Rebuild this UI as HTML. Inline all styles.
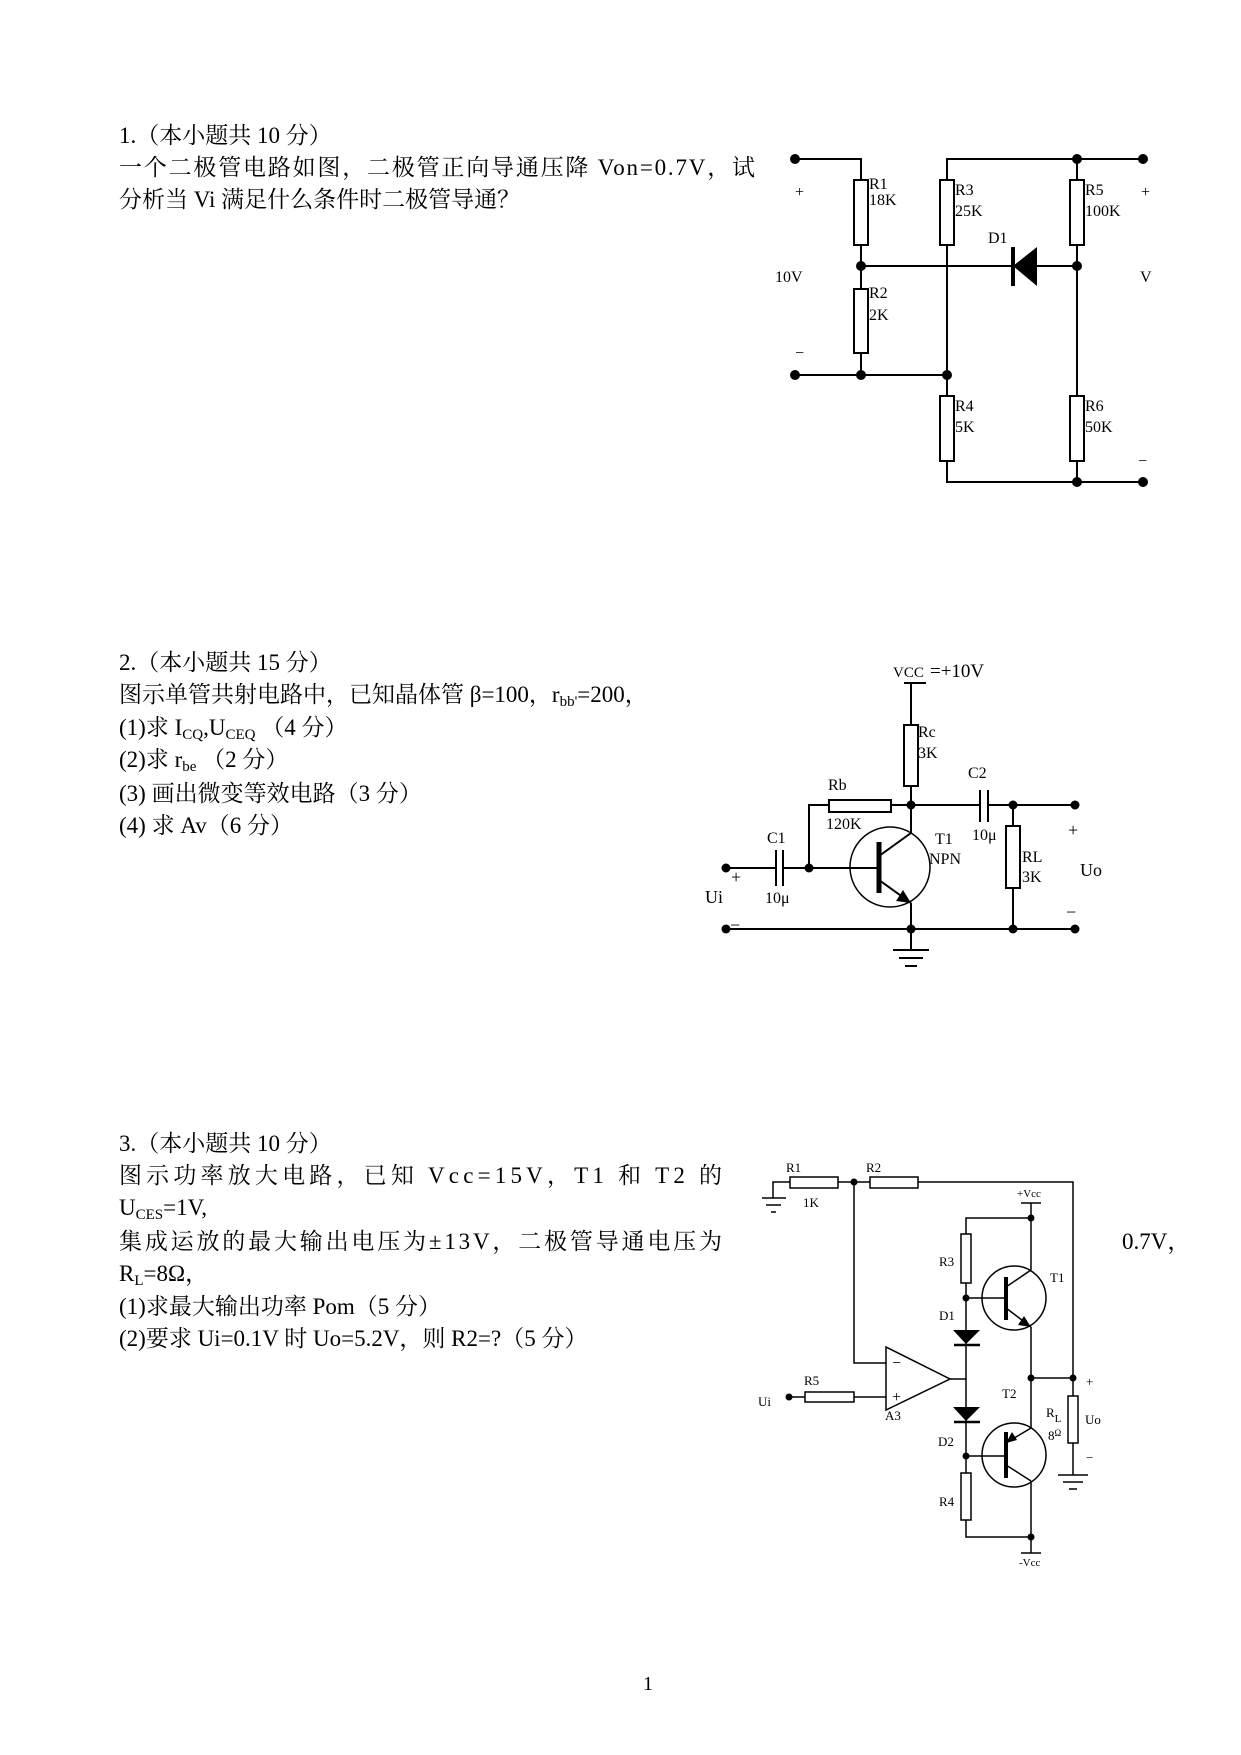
<!DOCTYPE html>
<html><head><meta charset="utf-8"><style>
html,body{margin:0;padding:0;background:#fff}
svg{display:block}
text{font-family:"Liberation Serif","Noto Serif CJK SC","Noto Sans CJK SC",serif;fill:#000}
.t{font-size:23px}
.s{font-size:16px}
.x{font-size:13px}
</style></head><body>
<svg width="1241" height="1755" viewBox="0 0 1241 1755" xmlns="http://www.w3.org/2000/svg">
<g class="t">
<text x="119" y="143">1.（本小题共 10  分）</text>
<text x="119" y="175" textLength="636" lengthAdjust="spacing">一个二极管电路如图，二极管正向导通压降 Von=0.7V，试</text>
<text x="119" y="207">分析当 Vi 满足什么条件时二极管导通？</text>

<text x="119" y="670">2.（本小题共 15 分）</text>
<text x="119" y="702">图示单管共射电路中，已知晶体管 β=100，r<tspan font-size="15" dy="4">bb'</tspan><tspan dy="-4">=200，</tspan></text>
<text x="119" y="735">(1)求 I<tspan font-size="15" dy="4">CQ</tspan><tspan dy="-4">,U</tspan><tspan font-size="15" dy="4">CEQ</tspan><tspan dy="-4">  （4 分）</tspan></text>
<text x="119" y="767">(2)求 r<tspan font-size="15" dy="4">be</tspan><tspan dy="-4"> （2 分）</tspan></text>
<text x="119" y="801">(3)  画出微变等效电路（3 分）</text>
<text x="119" y="833">(4)  求 Av（6 分）</text>

<text x="119" y="1151">3.（本小题共 10 分）</text>
<text x="119" y="1183" textLength="603" lengthAdjust="spacing">图示功率放大电路，已知 Vcc=15V，T1 和 T2 的</text>
<text x="119" y="1215">U<tspan font-size="15" dy="4">CES</tspan><tspan dy="-4">=1V,</tspan></text>
<text x="119" y="1249" textLength="603" lengthAdjust="spacing">集成运放的最大输出电压为±13V，二极管导通电压为</text>
<text x="1122" y="1249">0.7V，</text>
<text x="119" y="1281">R<tspan font-size="15" dy="4">L</tspan><tspan dy="-4">=8Ω，</tspan></text>
<text x="119" y="1314">(1)求最大输出功率 Pom（5 分）</text>
<text x="119" y="1346">(2)要求 Ui=0.1V 时 Uo=5.2V，则 R2=?（5 分）</text>
<text x="643" y="1690" font-size="20">1</text>
</g>

<!-- Circuit 1 -->
<g stroke="#000" stroke-width="2" fill="none">
<polyline points="795,159 861,159 861,180"/>
<line x1="861" y1="245" x2="861" y2="289"/>
<line x1="861" y1="353" x2="861" y2="375"/>
<line x1="795" y1="375" x2="947" y2="375"/>
<polyline points="947,180 947,159 1143,159"/>
<line x1="947" y1="245" x2="947" y2="396"/>
<polyline points="947,461 947,482 1143,482"/>
<line x1="1077" y1="159" x2="1077" y2="180"/>
<line x1="1077" y1="245" x2="1077" y2="396"/>
<line x1="1077" y1="461" x2="1077" y2="482"/>
<line x1="861" y1="266" x2="1077" y2="266"/>
<rect x="854" y="180" width="14" height="65"/>
<rect x="854" y="289" width="14" height="64"/>
<rect x="940" y="180" width="14" height="65"/>
<rect x="940" y="396" width="14" height="65"/>
<rect x="1070" y="180" width="14" height="65"/>
<rect x="1070" y="396" width="14" height="65"/>
<line x1="1013" y1="247" x2="1013" y2="286" stroke-width="4"/>
</g>
<polygon points="1013,266 1037,247 1037,286" fill="#000"/>
<g fill="#000">
<circle cx="795" cy="159" r="5"/><circle cx="795" cy="375" r="5"/>
<circle cx="861" cy="266" r="5"/><circle cx="861" cy="375" r="5"/>
<circle cx="947" cy="375" r="5"/><circle cx="1077" cy="159" r="5"/>
<circle cx="1143" cy="159" r="5"/><circle cx="1077" cy="266" r="5"/>
<circle cx="1077" cy="482" r="5"/><circle cx="1143" cy="482" r="5"/>
</g>
<g class="s">
<text x="869" y="189">R1</text><text x="869" y="205">18K</text>
<text x="869" y="298">R2</text><text x="869" y="320">2K</text>
<text x="955" y="195">R3</text><text x="955" y="216">25K</text>
<text x="955" y="411">R4</text><text x="955" y="432">5K</text>
<text x="1085" y="195">R5</text><text x="1085" y="216">100K</text>
<text x="1085" y="411">R6</text><text x="1085" y="432">50K</text>
<text x="988" y="243">D1</text>
<text x="775" y="282">10V</text>
<text x="1140" y="282">V</text>
</g>
<g fill="#999" font-size="16"><text x="795" y="197">+</text><text x="1141" y="197">+</text><text x="795" y="358">−</text><text x="1138" y="466">−</text></g>

<!-- Circuit 2 -->
<g stroke="#000" stroke-width="2" fill="none">
<line x1="904" y1="683" x2="926" y2="683"/>
<line x1="911" y1="683" x2="911" y2="725"/>
<rect x="904" y="725" width="14" height="61"/>
<line x1="911" y1="786" x2="911" y2="833"/>
<polyline points="809,868 809,805 829,805"/>
<rect x="829" y="800" width="62" height="12"/>
<line x1="891" y1="805" x2="980" y2="805"/>
<line x1="988" y1="805" x2="1075" y2="805"/>
<line x1="980" y1="790" x2="980" y2="822"/><line x1="988" y1="790" x2="988" y2="822"/>
<line x1="1013" y1="805" x2="1013" y2="826"/>
<rect x="1006" y="826" width="14" height="62"/>
<line x1="1013" y1="888" x2="1013" y2="929"/>
<line x1="726" y1="868" x2="776" y2="868"/>
<line x1="776" y1="850" x2="776" y2="886"/><line x1="783" y1="850" x2="783" y2="886"/>
<line x1="783" y1="868" x2="879" y2="868"/>
<circle cx="890" cy="867" r="40" stroke-width="1.5"/>
<line x1="879" y1="842" x2="879" y2="893" stroke-width="5"/>
<line x1="879" y1="856" x2="911" y2="833"/>
<line x1="879" y1="880" x2="911" y2="903"/>
<line x1="911" y1="903" x2="911" y2="950"/>
<line x1="726" y1="929" x2="1075" y2="929"/>
<line x1="893" y1="950" x2="929" y2="950"/>
<line x1="899" y1="958" x2="923" y2="958"/>
<line x1="905" y1="966" x2="917" y2="966"/>
</g>
<polygon points="911,903 896,901 903,890" fill="#000"/>
<g fill="#000">
<circle cx="911" cy="805" r="4.5"/><circle cx="1013" cy="805" r="4.5"/><circle cx="1075" cy="805" r="4.5"/>
<circle cx="726" cy="868" r="4.5"/><circle cx="809" cy="868" r="4.5"/>
<circle cx="726" cy="929" r="4.5"/><circle cx="911" cy="929" r="4.5"/>
<circle cx="1013" cy="929" r="4.5"/><circle cx="1075" cy="929" r="4.5"/>
</g>
<g font-size="16">
<text x="893" y="677" font-size="15">VCC</text><text x="930" y="677" font-size="19">=+10V</text>
<text x="918" y="737">Rc</text><text x="918" y="758">3K</text>
<text x="828" y="790">Rb</text><text x="826" y="829">120K</text>
<text x="767" y="843">C1</text><text x="765" y="903">10μ</text>
<text x="935" y="844">T1</text><text x="929" y="864">NPN</text>
<text x="968" y="778">C2</text><text x="972" y="840">10μ</text>
<text x="1022" y="862">RL</text><text x="1022" y="882">3K</text>
<text x="1068" y="836" font-size="18">+</text><text x="1080" y="876" font-size="18">Uo</text>
<text x="1066" y="918" font-size="18">−</text>
<text x="705" y="903" font-size="18">Ui</text><text x="731" y="883" font-size="18">+</text><text x="730" y="931" font-size="18">−</text>
</g>

<!-- Circuit 3 -->
<g stroke="#000" stroke-width="1.5" fill="none">
<polyline points="773,1198 773,1182 790,1182"/>
<line x1="762" y1="1198" x2="786" y2="1198"/><line x1="766" y1="1205" x2="781" y2="1205"/><line x1="771" y1="1212" x2="776" y2="1212"/>
<rect x="790" y="1177" width="48" height="11"/>
<line x1="838" y1="1182" x2="870" y2="1182"/>
<rect x="870" y="1177" width="48" height="11"/>
<polyline points="918,1182 1073,1182 1073,1396"/>
<rect x="1068" y="1396" width="10" height="47"/>
<line x1="1073" y1="1443" x2="1073" y2="1475"/>
<line x1="1058" y1="1475" x2="1088" y2="1475"/><line x1="1063" y1="1482" x2="1083" y2="1482"/><line x1="1069" y1="1489" x2="1077" y2="1489"/>
<polyline points="854,1182 854,1363 886,1363"/>
<polygon points="886,1347 950,1379 886,1410"/>
<line x1="789" y1="1397" x2="805" y2="1397"/>
<rect x="805" y="1392" width="49" height="10"/>
<line x1="854" y1="1397" x2="886" y2="1397"/>
<line x1="950" y1="1379" x2="966" y2="1379"/>
<line x1="1021" y1="1203" x2="1041" y2="1203"/>
<line x1="1031" y1="1203" x2="1031" y2="1270"/>
<polyline points="966,1234 966,1218 1031,1218"/>
<rect x="961" y="1234" width="10" height="49"/>
<line x1="966" y1="1283" x2="966" y2="1473"/>
<rect x="961" y="1473" width="10" height="47"/>
<polyline points="966,1520 966,1537 1031,1537"/>
<line x1="1021" y1="1553" x2="1041" y2="1553"/>
<line x1="1031" y1="1481" x2="1031" y2="1553"/>
<line x1="966" y1="1298" x2="1006" y2="1298"/>
<line x1="966" y1="1456" x2="1006" y2="1456"/>
<circle cx="1014" cy="1298" r="32"/>
<circle cx="1014" cy="1455" r="32"/>
<line x1="1006" y1="1287" x2="1031" y2="1270"/>
<line x1="1006" y1="1308" x2="1031" y2="1327"/>
<line x1="1031" y1="1327" x2="1031" y2="1428"/>
<line x1="1031" y1="1378" x2="1073" y2="1378"/>
<line x1="1031" y1="1428" x2="1006" y2="1443"/>
<line x1="1006" y1="1465" x2="1031" y2="1481"/>
<line x1="954" y1="1345" x2="980" y2="1345" stroke-width="2.5"/>
<line x1="954" y1="1422" x2="980" y2="1422" stroke-width="2.5"/>
<line x1="1006" y1="1277" x2="1006" y2="1320" stroke-width="4"/>
<line x1="1006" y1="1432" x2="1006" y2="1478" stroke-width="4"/>
</g>
<g fill="#000">
<polygon points="953,1330 980,1330 966,1344"/>
<polygon points="953,1407 980,1407 966,1421"/>
<polygon points="1031,1327 1018,1325 1024,1316"/>
<polygon points="1006,1443 1012,1432 1017,1440"/>
<circle cx="854" cy="1182" r="3.5"/><circle cx="1031" cy="1218" r="3.5"/>
<circle cx="966" cy="1298" r="3.5"/><circle cx="966" cy="1456" r="3.5"/>
<circle cx="1031" cy="1378" r="3.5"/><circle cx="1073" cy="1378" r="3.5"/>
<circle cx="1031" cy="1537" r="3.5"/><circle cx="789" cy="1397" r="3.5"/>
</g>
<g class="x">
<text x="786" y="1172">R1</text><text x="803" y="1207">1K</text>
<text x="866" y="1172">R2</text>
<text x="1017" y="1197" font-size="11">+Vcc</text>
<text x="1019" y="1566" font-size="11">-Vcc</text>
<text x="939" y="1266">R3</text><text x="939" y="1320">D1</text>
<text x="938" y="1446">D2</text><text x="939" y="1506">R4</text>
<text x="804" y="1385">R5</text><text x="758" y="1406">Ui</text>
<text x="885" y="1420">A3</text>
<text x="892" y="1368" font-size="16">−</text><text x="892" y="1402" font-size="16">+</text>
<text x="1050" y="1282">T1</text><text x="1002" y="1398">T2</text>
<text x="1046" y="1417">R<tspan font-size="11" dy="5">L</tspan></text>
<text x="1048" y="1440">8<tspan font-size="9" dy="-4">Ω</tspan></text>
<text x="1085" y="1424">Uo</text>
<text x="1086" y="1386">+</text><text x="1086" y="1462">−</text>
</g>
</svg>
</body></html>
